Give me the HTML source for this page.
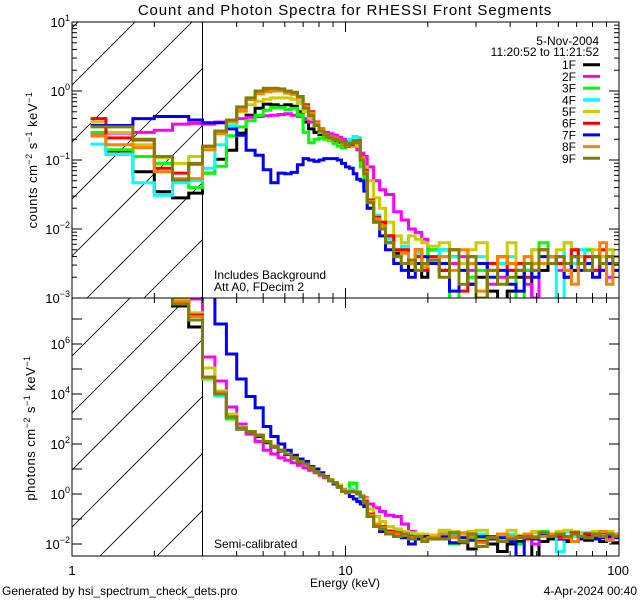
<!DOCTYPE html>
<html><head><meta charset="utf-8"><title>RHESSI spectra</title>
<style>
html,body{margin:0;padding:0;background:#fff;width:640px;height:600px;overflow:hidden;}
svg{display:block;font-family:"Liberation Sans",sans-serif;overflow:hidden;}
text{fill:#000;}
</style></head>
<body>
<svg id="chart" width="640" height="600" viewBox="0 0 640 600" xmlns="http://www.w3.org/2000/svg">
<rect x="0" y="0" width="640" height="600" fill="#fff"/>
<defs>
<clipPath id="clipTop"><rect x="72" y="22" width="547" height="276"/></clipPath>
<clipPath id="clipBot"><rect x="72" y="298" width="547" height="258"/></clipPath>
<clipPath id="hc1"><rect x="72" y="22" width="131" height="276"/></clipPath>
<clipPath id="hc2"><rect x="72" y="298" width="131" height="258"/></clipPath>
</defs>
<text x="345" y="15" font-size="15" letter-spacing="0.9" text-anchor="middle">Count and Photon Spectra for RHESSI Front Segments</text>
<g id="hatch"></g>
<g id="seriesTop" clip-path="url(#clipTop)"></g>
<g id="seriesBot" clip-path="url(#clipBot)"></g>
<g id="axes"></g>
<text x="214" y="279" font-size="12">Includes Background</text>
<text x="214" y="291" font-size="12">Att A0, FDecim 2</text>
<text x="214" y="548" font-size="12">Semi-calibrated</text>
<text x="599" y="45" font-size="12" text-anchor="end">5-Nov-2004</text>
<text x="599" y="56" font-size="12" text-anchor="end">11:20:52 to 11:21:52</text>
<g id="legend"></g>
<text x="345" y="587" font-size="12" text-anchor="middle">Energy (keV)</text>
<text x="2" y="595" font-size="12">Generated by hsi_spectrum_check_dets.pro</text>
<text x="637" y="595" font-size="12" text-anchor="end">4-Apr-2024 00:40</text>
<text transform="translate(37,160) rotate(-90)" font-size="13" letter-spacing="0.5" text-anchor="middle">counts cm<tspan dy="-5" font-size="9">−2</tspan><tspan dy="5"> s</tspan><tspan dy="-5" font-size="9">−1</tspan><tspan dy="5"> keV</tspan><tspan dy="-5" font-size="9">−1</tspan></text>
<text transform="translate(35,428) rotate(-90)" font-size="13" letter-spacing="0.5" text-anchor="middle">photons cm<tspan dy="-5" font-size="9">−2</tspan><tspan dy="5"> s</tspan><tspan dy="-5" font-size="9">−1</tspan><tspan dy="5"> keV</tspan><tspan dy="-5" font-size="9">−1</tspan></text>
</svg>
<script>
// Energy bin edges (keV)
const energyEdges = [1.17,1.33,1.67,2,2.33,2.67,3,3.33,3.67,4,4.33,4.67,5,5.33,5.67,6,6.33,6.67,7,7.33,7.67,8,8.33,8.67,9,9.33,9.67,10,10.33,10.67,11,11.33,11.67,12,12.67,13.33,14,15,16,17,18,19,20,22,24,26,28,30,33,36,39,42,45,48,51,55,59,63,67,71,75,80,85,90,95,100];
const segmentNames = ["1F","2F","3F","4F","5F","6F","7F","8F","9F"];
const xTickValues = [1,10,100];
const xTickLabels = ["1","10","100"];
const topYExponents = [1,0,-1,-2,-3];
const botYExponents = [6,4,2,0,-2];

// log10 counts per bin
const counts1F = [-0.65,-0.87,-1.17,-1.46,-1.55,-1.48, -1.19,-0.99,-0.86,-0.61,-0.35,-0.25,-0.19,-0.2,-0.22,-0.2,-0.22,-0.3, -0.45,-0.55,-0.6,-0.63,-0.66,-0.7,-0.72,-0.74,-0.77,-0.8,-0.78,-0.76,-0.74,-0.97,-1.15, -1.6,-1.85,-1.95,-2.1,-2.35,-2.3,-2.6,-2.3,-2.7,-2.5, -2.6,-2.4,-2.5,-2.8,-2.7,-2.9,-3.5,-2.9,-2.7,-2.6,-3.5,-2.6,-2.4,-2.5,-2.5,-2.6,-2.4,-2.5,-2.4,-2.6,-2.5,-2.5];
const counts2F = [-0.62,-0.61,-0.6,-0.57,-0.48,-0.47, -0.48,-0.45,-0.42,-0.4,-0.38,-0.37,-0.36,-0.35,-0.34,-0.33,-0.35,-0.37, -0.4,-0.45,-0.5,-0.57,-0.6,-0.62,-0.64,-0.67,-0.7,-0.73,-0.76,-0.8,-0.85,-0.9,-0.95, -1.1,-1.3,-1.43,-1.5,-1.75,-1.87,-2.0,-2.05,-2.15,-2.3, -2.3,-2.5,-2.4,-2.6,-2.5,-2.8,-2.7,-2.6,-2.6,-2.8,-3.0,-2.3,-2.4,-2.6,-2.5,-2.4,-2.5,-2.5,-2.6,-2.4,-2.7,-2.6];
const counts3F = [-0.6,-0.85,-0.95,-1.05,-1.29,-1.4, -1.19,-1.09,-0.65,-0.52,-0.43,-0.35,-0.28,-0.24,-0.24,-0.27,-0.25,-0.35, -0.6,-0.75,-0.7,-0.68,-0.7,-0.72,-0.76,-0.8,-0.82,-0.8,-0.72,-0.66,-0.68,-1.1,-1.4, -1.7,-1.9,-2.0,-2.2,-2.4,-2.3,-2.5,-2.4,-2.5,-2.3, -2.4,-3.5,-2.5,-2.7,-2.6,-2.5,-2.4,-2.5,-3.5,-2.6,-2.5,-2.2,-2.4,-2.5,-2.6,-2.4,-2.5,-2.3,-2.6,-2.4,-2.5,-2.4];
const counts4F = [-0.77,-0.92,-1.33,-1.51,-1.33,-1.3, -1.12,-0.78,-0.5,-0.3,-0.12,-0.03,0.0,0.0,0.0,-0.03,-0.05,-0.15, -0.25,-0.35,-0.48,-0.56,-0.62,-0.66,-0.7,-0.72,-0.74,-0.78,-0.7,-0.66,-0.7,-0.95,-1.2, -1.6,-1.8,-1.9,-2.15,-2.3,-2.25,-2.45,-2.35,-2.5,-2.4, -2.3,-2.4,-2.6,-2.5,-2.4,-2.6,-2.5,-2.4,-2.6,-2.5,-2.3,-2.5,-2.4,-3.5,-2.2,-2.5,-2.3,-2.5,-2.4,-2.6,-2.3,-2.5];
const counts5F = [-0.45,-0.6,-0.78,-0.97,-1.05,-0.95, -0.8,-0.6,-0.45,-0.3,-0.2,-0.15,-0.12,-0.1,-0.1,-0.1,-0.12,-0.18, -0.3,-0.4,-0.5,-0.6,-0.65,-0.7,-0.7,-0.72,-0.75,-0.78,-0.8,-0.78,-0.8,-0.95,-1.1, -1.3,-1.55,-1.7,-1.9,-2.1,-2.2,-2.1,-2.15,-2.2,-2.25, -2.2,-2.3,-2.5,-2.3,-2.2,-2.6,-2.4,-2.2,-2.5,-2.4,-2.3,-2.4,-2.5,-2.3,-2.2,-2.3,-2.4,-2.5,-2.3,-2.4,-2.3,-2.4];
const counts6F = [-0.4,-0.68,-0.71,-1.12,-1.19,-1.06, -0.8,-0.6,-0.45,-0.28,-0.12,-0.03,0.0,0.0,0.0,-0.02,-0.02,-0.08, -0.2,-0.3,-0.45,-0.55,-0.62,-0.68,-0.7,-0.72,-0.76,-0.8,-0.78,-0.74,-0.72,-0.95,-1.15, -1.58,-1.83,-1.9,-2.1,-2.3,-2.3,-2.5,-2.4,-2.6,-2.4, -2.6,-2.3,-2.9,-2.4,-3.0,-2.5,-2.4,-2.6,-2.5,-2.7,-2.6,-2.3,-2.4,-2.5,-2.7,-2.3,-2.5,-2.4,-2.6,-2.3,-2.4,-2.5];
const counts7F = [-0.5,-0.5,-0.4,-0.37,-0.37,-0.42, -0.46,-0.46,-0.55,-0.64,-0.86,-0.93,-1.14,-1.33,-1.19,-1.2,-1.18,-1.07, -0.98,-1.0,-1.02,-1.0,-0.98,-0.98,-0.98,-1.0,-1.05,-1.1,-1.12,-1.2,-1.28,-1.3,-1.45, -1.7,-1.9,-2.1,-2.3,-2.5,-2.6,-2.7,-2.5,-2.4,-2.5, -2.5,-2.9,-2.6,-2.8,-2.5,-2.7,-2.6,-2.8,-2.9,-2.5,-2.7,-2.4,-2.5,-2.4,-2.7,-2.4,-2.6,-2.5,-2.7,-2.6,-2.5,-2.6];
const counts8F = [-0.65,-0.78,-0.82,-1.17,-1.27,-1.27, -0.85,-0.62,-0.45,-0.28,-0.12,-0.04,-0.01,0.0,0.0,-0.03,-0.04,-0.1, -0.22,-0.32,-0.46,-0.56,-0.63,-0.66,-0.68,-0.72,-0.76,-0.79,-0.75,-0.72,-0.74,-0.96,-1.18, -1.6,-1.85,-1.95,-2.2,-2.4,-2.35,-2.5,-2.3,-2.55,-2.45, -2.4,-2.6,-2.3,-2.5,-2.9,-2.6,-2.4,-2.5,-2.6,-2.4,-2.5,-2.5,-2.4,-2.4,-2.6,-2.8,-2.5,-2.6,-2.4,-2.2,-2.8,-2.4];
const counts9F = [-0.52,-0.52,-0.7,-0.95,-1.29,-1.05, -0.8,-0.58,-0.42,-0.23,-0.1,0.0,0.04,0.04,0.03,0.0,-0.02,-0.08, -0.25,-0.36,-0.5,-0.58,-0.64,-0.68,-0.7,-0.72,-0.74,-0.78,-0.76,-0.72,-0.75,-1.0,-1.2, -1.62,-1.9,-2.0,-2.2,-2.4,-2.5,-2.45,-2.6,-2.5,-2.45, -2.7,-2.3,-2.8,-2.4,-3.0,-2.6,-2.8,-2.7,-2.6,-2.5,-2.6,-2.3,-2.5,-2.4,-2.5,-2.4,-2.5,-2.6,-2.4,-2.5,-2.4,-2.5];

// log10 photons per bin
const photons1F = [9,9,9,9,7.52,6.68, 4.68,4.0,3.05,2.6,2.45,2.3,2.05,1.88,1.72,1.58,1.43,1.28, 1.18,1.03,0.88,0.76,0.66,0.53,0.43,0.28,0.13,0.06,0.1,0.08,0.03,-0.12,-0.32, -0.85,-1.25,-1.35,-1.55,-1.6,-1.65,-1.75,-1.8,-1.75,-1.8, -1.8,-1.7,-1.9,-2.2,-1.9,-2.0,-2.3,-2.0,-1.9,-1.8,-2.6,-1.9,-1.8,-1.8,-1.9,-1.9,-1.8,-1.85,-1.8,-1.9,-1.85,-1.95];
const photons2F = [9,9,9,9,7.7,7.8, 5.48,4.52,3.48,2.8,2.4,2.1,1.75,1.6,1.45,1.35,1.25,1.15, 1.05,0.95,0.85,0.75,0.65,0.55,0.45,0.35,0.2,0.12,0.1,0.08,0.0,-0.1,-0.15, -0.4,-0.55,-0.7,-0.85,-0.9,-1.2,-1.5,-1.6,-1.7,-1.7, -1.6,-1.7,-1.65,-1.8,-1.7,-1.8,-1.75,-1.7,-1.7,-1.8,-2.0,-1.6,-1.7,-1.75,-1.7,-1.65,-1.7,-1.7,-1.75,-1.65,-1.8,-1.7];
const photons3F = [9,9,9,9,7.7,7.1, 4.6,3.95,3.0,2.62,2.5,2.35,2.08,1.9,1.75,1.6,1.45,1.3, 1.2,1.05,0.9,0.78,0.68,0.55,0.45,0.3,0.15,0.08,0.44,0.42,0.1,-0.1,-0.3, -0.9,-1.25,-1.3,-1.45,-1.5,-1.55,-1.65,-1.7,-1.7,-1.65, -1.6,-2.0,-1.7,-1.8,-1.75,-1.7,-1.6,-1.7,-2.0,-1.75,-1.7,-1.5,-1.6,-1.7,-1.75,-1.6,-1.7,-1.55,-1.7,-1.6,-1.7,-1.6];
const photons4F = [9,9,9,9,7.75,7.12, 4.62,3.92,3.1,2.65,2.5,2.35,2.08,1.9,1.75,1.6,1.45,1.3, 1.18,1.05,0.9,0.78,0.7,0.55,0.45,0.3,0.15,0.1,0.2,0.15,0.1,-0.15,-0.4, -0.85,-1.2,-1.3,-1.5,-1.55,-1.6,-1.7,-1.75,-1.7,-1.75, -1.55,-1.6,-1.75,-1.7,-1.6,-1.75,-1.7,-1.6,-1.75,-1.7,-1.55,-1.7,-1.6,-2.3,-1.5,-1.7,-1.55,-1.7,-1.6,-1.75,-1.55,-1.7];
const photons5F = [9,9,9,9,7.8,7.25, 5.04,4.12,3.2,2.7,2.5,2.35,2.1,1.9,1.75,1.6,1.45,1.3, 1.2,1.05,0.9,0.8,0.7,0.58,0.45,0.35,0.2,0.12,0.15,0.12,0.05,-0.05,-0.2, -0.6,-0.9,-1.1,-1.3,-1.4,-1.5,-1.55,-1.6,-1.6,-1.65, -1.45,-1.5,-1.65,-1.5,-1.45,-1.7,-1.6,-1.45,-1.65,-1.6,-1.5,-1.6,-1.65,-1.5,-1.45,-1.5,-1.6,-1.65,-1.5,-1.6,-1.5,-1.6];
const photons6F = [9,9,9,9,7.7,7.16, 4.68,4.05,3.1,2.64,2.5,2.35,2.08,1.9,1.75,1.6,1.45,1.3, 1.2,1.05,0.9,0.78,0.68,0.55,0.45,0.3,0.15,0.08,0.12,0.1,0.05,-0.1,-0.3, -0.8,-1.2,-1.3,-1.5,-1.55,-1.6,-1.7,-1.75,-1.7,-1.75, -1.75,-1.55,-1.95,-1.6,-1.9,-1.7,-1.6,-1.75,-1.7,-1.8,-1.75,-1.55,-1.6,-1.7,-1.8,-1.55,-1.7,-1.6,-1.75,-1.55,-1.6,-1.7];
const photons7F = [9,9,9,9,9,9, 9,6.8,5.6,4.6,3.9,3.45,2.7,2.3,2.0,1.75,1.55,1.4, 1.3,1.1,1.0,0.85,0.7,0.55,0.4,0.3,0.15,0.05,-0.1,-0.2,-0.3,-0.4,-0.5, -0.9,-1.3,-1.5,-1.6,-1.7,-1.75,-2.0,-1.8,-1.7,-1.8, -1.7,-1.95,-1.75,-1.85,-1.7,-1.8,-1.75,-1.9,-2.5,-1.7,-1.8,-1.6,-1.7,-1.6,-1.8,-1.6,-1.75,-1.7,-1.8,-1.75,-1.7,-1.75];
const photons8F = [9,9,9,9,7.7,7.1, 4.65,4.05,3.1,2.64,2.5,2.35,2.1,1.92,1.75,1.6,1.45,1.3, 1.2,1.05,0.9,0.78,0.68,0.55,0.45,0.3,0.15,0.08,0.12,0.1,0.05,-0.1,-0.35, -0.85,-1.2,-1.35,-1.55,-1.6,-1.65,-1.75,-1.7,-1.8,-1.75, -1.6,-1.75,-1.55,-1.7,-1.95,-1.75,-1.6,-1.7,-1.75,-1.6,-1.7,-1.7,-1.6,-1.6,-1.75,-1.9,-1.7,-1.75,-1.6,-1.5,-1.85,-1.6];
const photons9F = [9,9,9,9,7.6,6.96, 4.68,4.0,3.08,2.64,2.5,2.35,2.1,1.9,1.75,1.6,1.45,1.3, 1.2,1.05,0.9,0.78,0.68,0.55,0.45,0.3,0.1,0.06,0.1,0.08,0.03,-0.1,-0.35, -0.9,-1.3,-1.4,-1.6,-1.7,-1.6,-1.8,-1.7,-1.9,-1.8, -1.8,-1.55,-1.9,-1.6,-2.1,-1.75,-1.9,-1.8,-1.75,-1.7,-1.75,-1.55,-1.7,-1.6,-1.7,-1.6,-1.7,-1.75,-1.6,-1.7,-1.6,-1.7];

const countsSeries = [counts1F,counts2F,counts3F,counts4F,counts5F,counts6F,counts7F,counts8F,counts9F];
const photonsSeries = [photons1F,photons2F,photons3F,photons4F,photons5F,photons6F,photons7F,photons8F,photons9F];
const colors = ["#000000","#ff00ff","#00ff00","#00ffff","#cccc00","#ff0000","#0000ff","#ff8000","#808000"];

const NS = "http://www.w3.org/2000/svg";
const X0 = 72, X1 = 619, YT = 22, YM = 298, YB = 556;
function xScale(e){ return X0 + Math.log10(e) * (X1 - X0) / 2; }
function yTop(l){ return YT + (1 - l) * (YM - YT) / 4; }
function yBot(l){ return 344 + (6 - l) * 25; }

function mk(tag, attrs, parent){
  const el = document.createElementNS(NS, tag);
  for (const k in attrs) el.setAttribute(k, attrs[k]);
  parent.appendChild(el);
  return el;
}

function stepPath(vals, yf, lo, hi){
  let d = "";
  for (let i = 0; i < vals.length; i++){
    const xa = xScale(energyEdges[i]), xb = xScale(energyEdges[i+1]);
    const y = Math.max(lo, Math.min(hi, yf(vals[i])));
    d += (i === 0 ? "M" : "L") + xa.toFixed(1) + "," + y.toFixed(1) + "L" + xb.toFixed(1) + "," + y.toFixed(1);
  }
  return d;
}

const gTop = document.getElementById("seriesTop");
const gBot = document.getElementById("seriesBot");
for (let s = 0; s < segmentNames.length; s++){
  const p1 = mk("path", {d: stepPath(countsSeries[s], yTop, YT - 5, YM + 5), fill: "none", stroke: colors[s], "stroke-width": 3}, gTop);
  
  
  const p2 = mk("path", {d: stepPath(photonsSeries[s], yBot, YM - 5, YB + 5), fill: "none", stroke: colors[s], "stroke-width": 3}, gBot);
  
  
}

// hatching (below 3 keV)
const hatch = document.getElementById("hatch");
const x3 = xScale(3);
function hatchPanel(y0, y1, x0ref, yref, cid){
  const g = mk("g", {"clip-path": "url(#" + cid + ")"}, hatch);
  for (let k = -6; k <= 6; k++){
    const xr = x0ref + k * 57;
    const ln = mk("line", {x1: xr - 300, y1: yref + 300, x2: xr + 300, y2: yref - 300, stroke: "#000", "stroke-width": 0.8}, g);
    
    
  }
}
hatchPanel(YT, YM, 135, YT, "hc1");
hatchPanel(YM, YB, 100, YB, "hc2");
const vl = mk("line", {x1: x3, y1: YT, x2: x3, y2: YB, stroke: "#000", "stroke-width": 1}, hatch);



// axes
const ax = document.getElementById("axes");
const frame = mk("rect", {x: X0, y: YT, width: X1 - X0, height: YB - YT, fill: "none", stroke: "#000", "stroke-width": 1}, ax);


const sep = mk("line", {x1: X0, y1: YM, x2: X1, y2: YM, stroke: "#000", "stroke-width": 1}, ax);



function tick(x1, y1, x2, y2){
  const t = mk("line", {x1: x1, y1: y1, x2: x2, y2: y2, stroke: "#000", "stroke-width": 1}, ax);
  
  
}
for (let dec = 0; dec < 2; dec++){
  for (let m = 1; m <= 9; m++){
    const e = Math.pow(10, dec) * m;
    const x = xScale(e);
    const len = m === 1 ? 10 : 5;
    if (x <= X0 + 0.5) continue;
    tick(x, YT, x, YT + len); tick(x, YM, x, YM - len); tick(x, YM, x, YM + len); tick(x, YB, x, YB - len);
  }
}
for (let l = -3; l <= 0; l++){
  for (let m = 1; m <= 9; m++){
    const y = yTop(l + Math.log10(m));
    const len = m === 1 ? 10 : 5;
    tick(X0, y, X0 + len, y); tick(X1, y, X1 - len, y);
  }
}
for (let l = -2; l <= 7; l++){
  const y = yBot(l);
  if (y < YM || y > YB) continue;
  tick(X0, y, X0 + 10, y); tick(X1, y, X1 - 10, y);
}
function expLabel(x, y, exp, name){
  const t = mk("text", {x: x, y: y, "font-size": 13, "text-anchor": "end"}, ax);
  
  
  t.textContent = "10";
  const sp = mk("tspan", {dy: -6, "font-size": 9}, t);
  sp.textContent = String(exp).replace("-", "−");
}
topYExponents.forEach(function(e){ expLabel(70, yTop(e) + 5, e, "top-y-tick-label"); });
botYExponents.forEach(function(e){ expLabel(70, yBot(e) + 5, e, "bottom-y-tick-label"); });
xTickValues.forEach(function(v, i){
  const last = i === xTickValues.length - 1;
  const t = mk("text", {x: last ? 629 : xScale(v), y: 575, "font-size": 13, "text-anchor": last ? "end" : "middle"}, ax);
  
  
  t.textContent = xTickLabels[i];
});

// legend
const lg = document.getElementById("legend");
segmentNames.forEach(function(n, i){
  const y = 64.7 + i * 11.7;
  const t = mk("text", {x: 576, y: y + 4.5, "font-size": 12, "text-anchor": "end"}, lg);
  
  
  t.textContent = n;
  const l = mk("line", {x1: 583, y1: y, x2: 600, y2: y, stroke: colors[i], "stroke-width": 3}, lg);
  
  
});
</script>
</body></html>
